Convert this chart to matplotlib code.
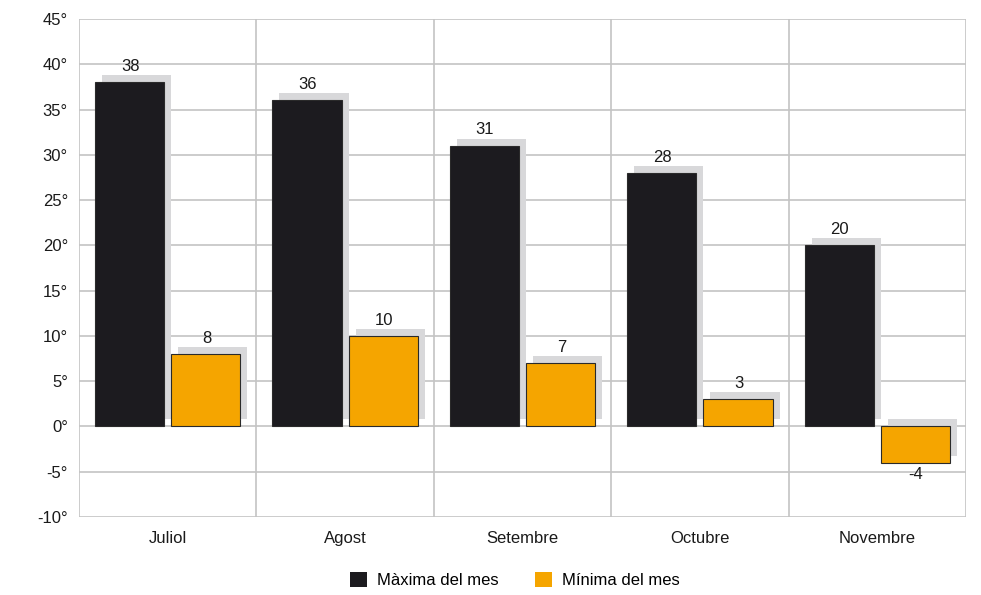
import matplotlib
matplotlib.use("Agg")
import matplotlib.pyplot as plt
import matplotlib.transforms as mtransforms
from matplotlib.patches import Patch
import numpy as np

plt.rcParams['font.family'] = ['Liberation Sans', 'DejaVu Sans']

months = ["Juliol", "Agost", "Setembre", "Octubre", "Novembre"]
max_vals = [38, 36, 31, 28, 20]
min_vals = [8, 10, 7, 3, -4]
series_names = ["Màxima del mes", "Mínima del mes"]
yticks = [-10, -5, 0, 5, 10, 15, 20, 25, 30, 35, 40, 45]

col_max = "#1c1b1f"
col_min = "#f5a500"
col_shadow = "#d8d8da"
col_grid = "#c4c4c4"
fs = 12

fig = plt.figure(figsize=(9.81, 5.95), dpi=100)
ax = fig.add_axes([79/981, 1-517/595, (966-79)/981, (517-19)/595])

x = np.arange(len(months)) + 0.5
w = 0.39
off = 0.215

shadow_tr = ax.transData + mtransforms.ScaledTranslation(7/100, 7/100, fig.dpi_scale_trans)

for vals, sgn in [(max_vals, -1), (min_vals, 1)]:
    sb = ax.bar(x + sgn*off, vals, width=w, color=col_shadow, linewidth=0, zorder=2)
    for p in sb:
        p.set_transform(shadow_tr)

b1 = ax.bar(x - off, max_vals, width=w, color=col_max, edgecolor="#2a2a2a", linewidth=0.8, zorder=3)
b2 = ax.bar(x + off, min_vals, width=w, color=col_min, edgecolor="#2a2a2a", linewidth=0.8, zorder=3)

for bars, vals in [(b1, max_vals), (b2, min_vals)]:
    for p, v in zip(bars, vals):
        cx = p.get_x() + p.get_width()/2
        if v >= 0:
            ax.annotate(f"{v}", (cx, v), xytext=(0.5, 6), textcoords="offset points",
                        ha="center", va="bottom", fontsize=fs, color="#1a1a1a", zorder=5)
        else:
            ax.annotate(f"{v}", (cx, v), xytext=(0, -3), textcoords="offset points",
                        ha="center", va="top", fontsize=fs, color="#1a1a1a", zorder=5)

ax.set_xlim(0, len(months))
ax.set_ylim(-10, 45)
ax.set_yticks(yticks)
ax.set_yticklabels([f"{t}°" for t in yticks], fontsize=fs, color="#1a1a1a")
ax.set_xticks(x)
ax.set_xticklabels(months, fontsize=fs, color="#1a1a1a")
ax.tick_params(axis="x", which="both", length=0, pad=10)
ax.tick_params(axis="y", length=0, pad=8)

ax.grid(False)
for t in yticks:
    ax.axhline(t, color=col_grid, linewidth=1.2, zorder=1)
for xv in range(len(months)+1):
    ax.axvline(xv, color=col_grid, linewidth=1.2, zorder=1)
for s in ax.spines.values():
    s.set_visible(False)

handles = [Patch(facecolor=col_max, edgecolor="none"), Patch(facecolor=col_min, edgecolor="none")]
fig.legend(handles, series_names, loc="center", bbox_to_anchor=(515/981, 1-580/595), ncol=2,
           frameon=False, fontsize=fs, handlelength=1.0, handleheight=1.0,
           handletextpad=0.6, columnspacing=2.2)

fig.savefig("out.png", dpi=100)
